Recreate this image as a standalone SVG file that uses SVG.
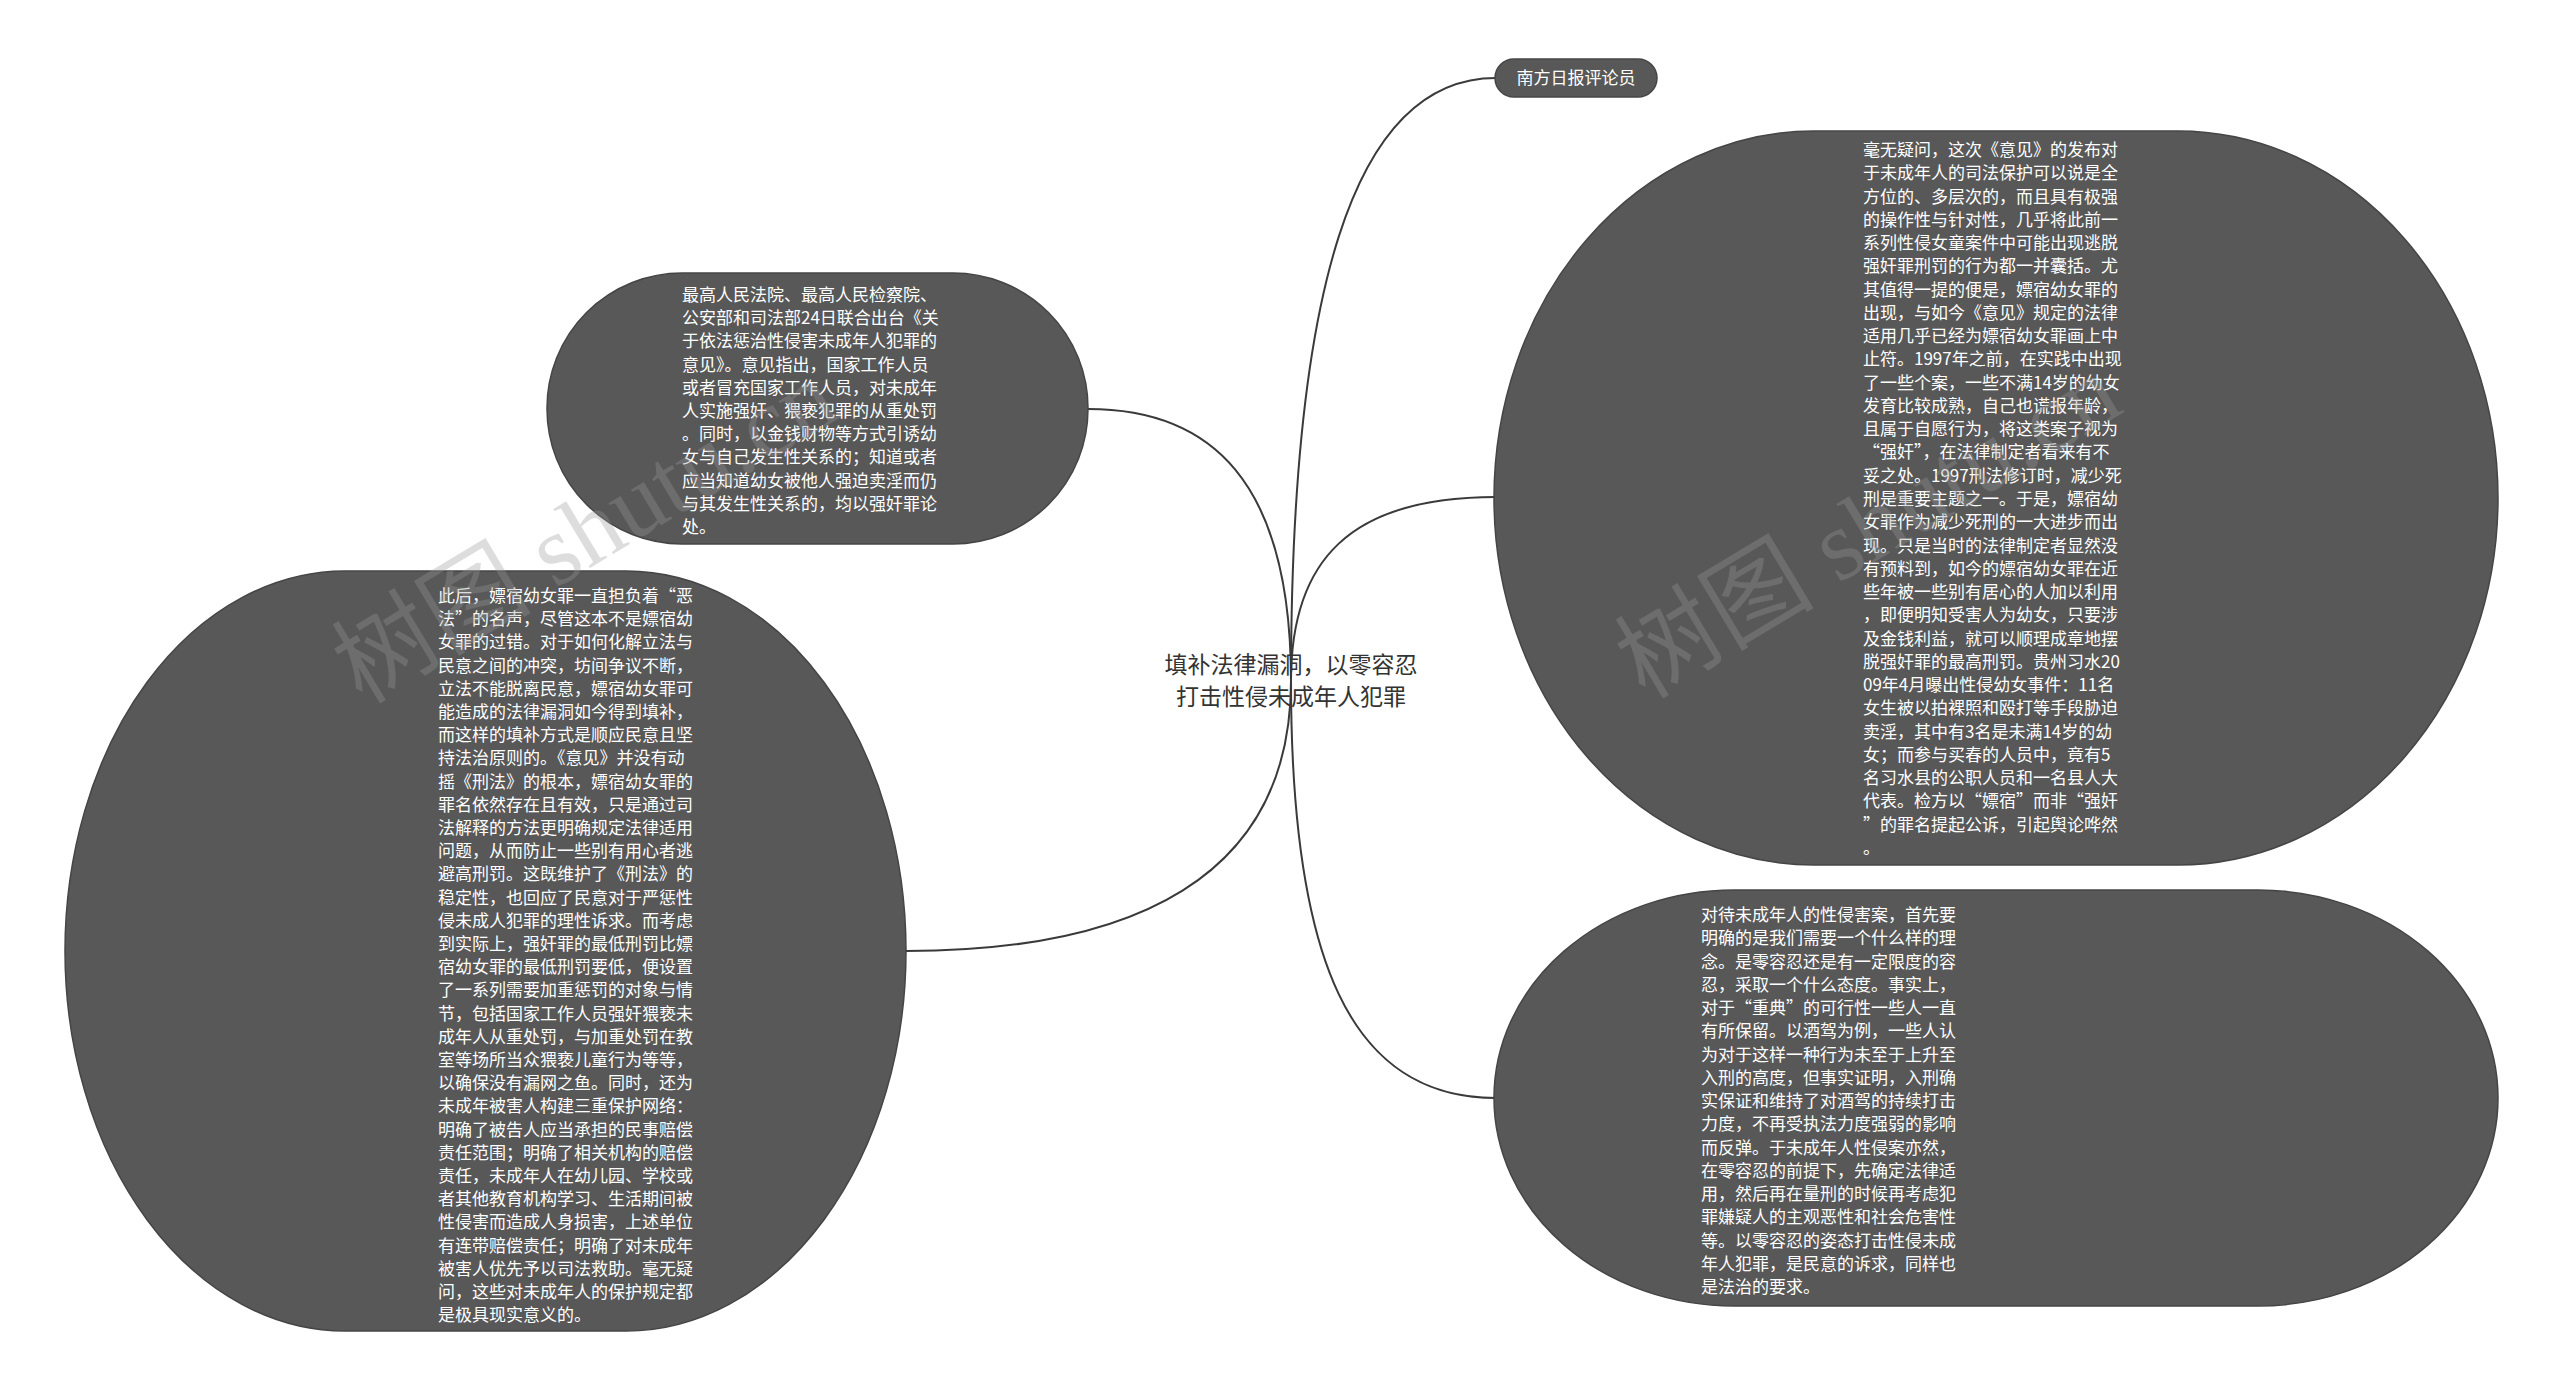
<svg xmlns="http://www.w3.org/2000/svg" width="2560" height="1392" viewBox="0 0 2560 1392">
<style>
.bg{fill:#ffffff}
.node{fill:#585858;stroke:#454545;stroke-width:1.5}
.t{font-family:"Noto Sans CJK SC","Noto Sans",sans-serif;font-size:17px;fill:#ffffff}
.center{font-family:"Noto Sans CJK SC","Noto Sans",sans-serif;font-size:23px;fill:#333333;text-anchor:middle}
.edge{fill:none;stroke:#3a3a3a;stroke-width:2}
.wm{font-family:"Liberation Serif","Noto Sans CJK SC",serif;font-size:100px;fill:#999999;fill-opacity:0.33}
</style>
<rect class="bg" x="0" y="0" width="2560" height="1392"/>

<g id="connectors">
  <path class="edge" d="M1291,681 C1291,300 1350,78 1496,78"/>
  <path class="edge" d="M1291,681 C1291,480 1210,409 1088,409"/>
  <path class="edge" d="M1291,681 C1291,560 1350,497 1496,497"/>
  <path class="edge" d="M1291,681 C1291,880 1130,951 906,951"/>
  <path class="edge" d="M1291,681 C1291,960 1350,1098 1496,1098"/>
</g>

<g id="center-node">
  <text class="center" x="1291" y="673">填补法律漏洞，以零容忍</text>
  <text class="center" x="1291" y="705">打击性侵未成年人犯罪</text>
</g>

<g id="node-nanfang">
  <rect class="node" x="1495" y="59" width="162" height="38" rx="19" ry="19"/>
  <text class="t" x="1576" y="84" text-anchor="middle">南方日报评论员</text>
</g>

<g id="node-topleft">
  <rect class="node" x="547" y="273" width="541" height="271" rx="135" ry="135"/>
  <text class="t">
    <tspan x="682" y="301">最高人民法院、最高人民检察院、</tspan>
    <tspan x="682" y="324.2">公安部和司法部24日联合出台《关</tspan>
    <tspan x="682" y="347.4">于依法惩治性侵害未成年人犯罪的</tspan>
    <tspan x="682" y="370.6">意见》。意见指出，国家工作人员</tspan>
    <tspan x="682" y="393.8">或者冒充国家工作人员，对未成年</tspan>
    <tspan x="682" y="417">人实施强奸、猥亵犯罪的从重处罚</tspan>
    <tspan x="682" y="440.2">。同时，以金钱财物等方式引诱幼</tspan>
    <tspan x="682" y="463.4">女与自己发生性关系的；知道或者</tspan>
    <tspan x="682" y="486.6">应当知道幼女被他人强迫卖淫而仍</tspan>
    <tspan x="682" y="509.8">与其发生性关系的，均以强奸罪论</tspan>
    <tspan x="682" y="533">处。</tspan>
  </text>
</g>

<g id="node-left">
  <rect class="node" x="65" y="571" width="841" height="760" rx="280" ry="380"/>
  <text class="t">
    <tspan x="438" y="602">此后，嫖宿幼女罪一直担负着“恶</tspan>
    <tspan x="438" y="625.2">法”的名声，尽管这本不是嫖宿幼</tspan>
    <tspan x="438" y="648.4">女罪的过错。对于如何化解立法与</tspan>
    <tspan x="438" y="671.6">民意之间的冲突，坊间争议不断，</tspan>
    <tspan x="438" y="694.8">立法不能脱离民意，嫖宿幼女罪可</tspan>
    <tspan x="438" y="718">能造成的法律漏洞如今得到填补，</tspan>
    <tspan x="438" y="741.2">而这样的填补方式是顺应民意且坚</tspan>
    <tspan x="438" y="764.4">持法治原则的。《意见》并没有动</tspan>
    <tspan x="438" y="787.6">摇《刑法》的根本，嫖宿幼女罪的</tspan>
    <tspan x="438" y="810.8">罪名依然存在且有效，只是通过司</tspan>
    <tspan x="438" y="834">法解释的方法更明确规定法律适用</tspan>
    <tspan x="438" y="857.2">问题，从而防止一些别有用心者逃</tspan>
    <tspan x="438" y="880.4">避高刑罚。这既维护了《刑法》的</tspan>
    <tspan x="438" y="903.6">稳定性，也回应了民意对于严惩性</tspan>
    <tspan x="438" y="926.8">侵未成人犯罪的理性诉求。而考虑</tspan>
    <tspan x="438" y="950">到实际上，强奸罪的最低刑罚比嫖</tspan>
    <tspan x="438" y="973.2">宿幼女罪的最低刑罚要低，便设置</tspan>
    <tspan x="438" y="996.4">了一系列需要加重惩罚的对象与情</tspan>
    <tspan x="438" y="1019.6">节，包括国家工作人员强奸猥亵未</tspan>
    <tspan x="438" y="1042.8">成年人从重处罚，与加重处罚在教</tspan>
    <tspan x="438" y="1066">室等场所当众猥亵儿童行为等等，</tspan>
    <tspan x="438" y="1089.2">以确保没有漏网之鱼。同时，还为</tspan>
    <tspan x="438" y="1112.4">未成年被害人构建三重保护网络：</tspan>
    <tspan x="438" y="1135.6">明确了被告人应当承担的民事赔偿</tspan>
    <tspan x="438" y="1158.8">责任范围；明确了相关机构的赔偿</tspan>
    <tspan x="438" y="1182">责任，未成年人在幼儿园、学校或</tspan>
    <tspan x="438" y="1205.2">者其他教育机构学习、生活期间被</tspan>
    <tspan x="438" y="1228.4">性侵害而造成人身损害，上述单位</tspan>
    <tspan x="438" y="1251.6">有连带赔偿责任；明确了对未成年</tspan>
    <tspan x="438" y="1274.8">被害人优先予以司法救助。毫无疑</tspan>
    <tspan x="438" y="1298">问，这些对未成年人的保护规定都</tspan>
    <tspan x="438" y="1321.2">是极具现实意义的。</tspan>
  </text>
</g>

<g id="node-right-top">
  <rect class="node" x="1494" y="131" width="1004" height="734" rx="320" ry="367"/>
  <text class="t">
    <tspan x="1863" y="156">毫无疑问，这次《意见》的发布对</tspan>
    <tspan x="1863" y="179.27">于未成年人的司法保护可以说是全</tspan>
    <tspan x="1863" y="202.53">方位的、多层次的，而且具有极强</tspan>
    <tspan x="1863" y="225.8">的操作性与针对性，几乎将此前一</tspan>
    <tspan x="1863" y="249.07">系列性侵女童案件中可能出现逃脱</tspan>
    <tspan x="1863" y="272.33">强奸罪刑罚的行为都一并囊括。尤</tspan>
    <tspan x="1863" y="295.6">其值得一提的便是，嫖宿幼女罪的</tspan>
    <tspan x="1863" y="318.87">出现，与如今《意见》规定的法律</tspan>
    <tspan x="1863" y="342.13">适用几乎已经为嫖宿幼女罪画上中</tspan>
    <tspan x="1863" y="365.4">止符。1997年之前，在实践中出现</tspan>
    <tspan x="1863" y="388.67">了一些个案，一些不满14岁的幼女</tspan>
    <tspan x="1863" y="411.93">发育比较成熟，自己也谎报年龄，</tspan>
    <tspan x="1863" y="435.2">且属于自愿行为，将这类案子视为</tspan>
    <tspan x="1863" y="458.47">“强奸”，在法律制定者看来有不</tspan>
    <tspan x="1863" y="481.73">妥之处。1997刑法修订时，减少死</tspan>
    <tspan x="1863" y="505">刑是重要主题之一。于是，嫖宿幼</tspan>
    <tspan x="1863" y="528.27">女罪作为减少死刑的一大进步而出</tspan>
    <tspan x="1863" y="551.53">现。只是当时的法律制定者显然没</tspan>
    <tspan x="1863" y="574.8">有预料到，如今的嫖宿幼女罪在近</tspan>
    <tspan x="1863" y="598.07">些年被一些别有居心的人加以利用</tspan>
    <tspan x="1863" y="621.33">，即便明知受害人为幼女，只要涉</tspan>
    <tspan x="1863" y="644.6">及金钱利益，就可以顺理成章地摆</tspan>
    <tspan x="1863" y="667.87">脱强奸罪的最高刑罚。贵州习水20</tspan>
    <tspan x="1863" y="691.13">09年4月曝出性侵幼女事件：11名</tspan>
    <tspan x="1863" y="714.4">女生被以拍裸照和殴打等手段胁迫</tspan>
    <tspan x="1863" y="737.67">卖淫，其中有3名是未满14岁的幼</tspan>
    <tspan x="1863" y="760.93">女；而参与买春的人员中，竟有5</tspan>
    <tspan x="1863" y="784.2">名习水县的公职人员和一名县人大</tspan>
    <tspan x="1863" y="807.47">代表。检方以“嫖宿”而非“强奸</tspan>
    <tspan x="1863" y="830.73">”的罪名提起公诉，引起舆论哗然</tspan>
    <tspan x="1863" y="854">。</tspan>
  </text>
</g>

<g id="node-right-bottom">
  <rect class="node" x="1494" y="890" width="1004" height="416" rx="240" ry="208"/>
  <text class="t">
    <tspan x="1701" y="921">对待未成年人的性侵害案，首先要</tspan>
    <tspan x="1701" y="944.25">明确的是我们需要一个什么样的理</tspan>
    <tspan x="1701" y="967.5">念。是零容忍还是有一定限度的容</tspan>
    <tspan x="1701" y="990.75">忍，采取一个什么态度。事实上，</tspan>
    <tspan x="1701" y="1014">对于“重典”的可行性一些人一直</tspan>
    <tspan x="1701" y="1037.25">有所保留。以酒驾为例，一些人认</tspan>
    <tspan x="1701" y="1060.5">为对于这样一种行为未至于上升至</tspan>
    <tspan x="1701" y="1083.75">入刑的高度，但事实证明，入刑确</tspan>
    <tspan x="1701" y="1107">实保证和维持了对酒驾的持续打击</tspan>
    <tspan x="1701" y="1130.25">力度，不再受执法力度强弱的影响</tspan>
    <tspan x="1701" y="1153.5">而反弹。于未成年人性侵案亦然，</tspan>
    <tspan x="1701" y="1176.75">在零容忍的前提下，先确定法律适</tspan>
    <tspan x="1701" y="1200">用，然后再在量刑的时候再考虑犯</tspan>
    <tspan x="1701" y="1223.25">罪嫌疑人的主观恶性和社会危害性</tspan>
    <tspan x="1701" y="1246.5">等。以零容忍的姿态打击性侵未成</tspan>
    <tspan x="1701" y="1269.75">年人犯罪，是民意的诉求，同样也</tspan>
    <tspan x="1701" y="1293">是法治的要求。</tspan>
  </text>
</g>

<g id="watermarks">
  <text class="wm" transform="translate(362,705) rotate(-31)">树图 shutu.cn</text>
  <text class="wm" transform="translate(1645,700) rotate(-31)">树图 shutu.cn</text>
</g>
</svg>
